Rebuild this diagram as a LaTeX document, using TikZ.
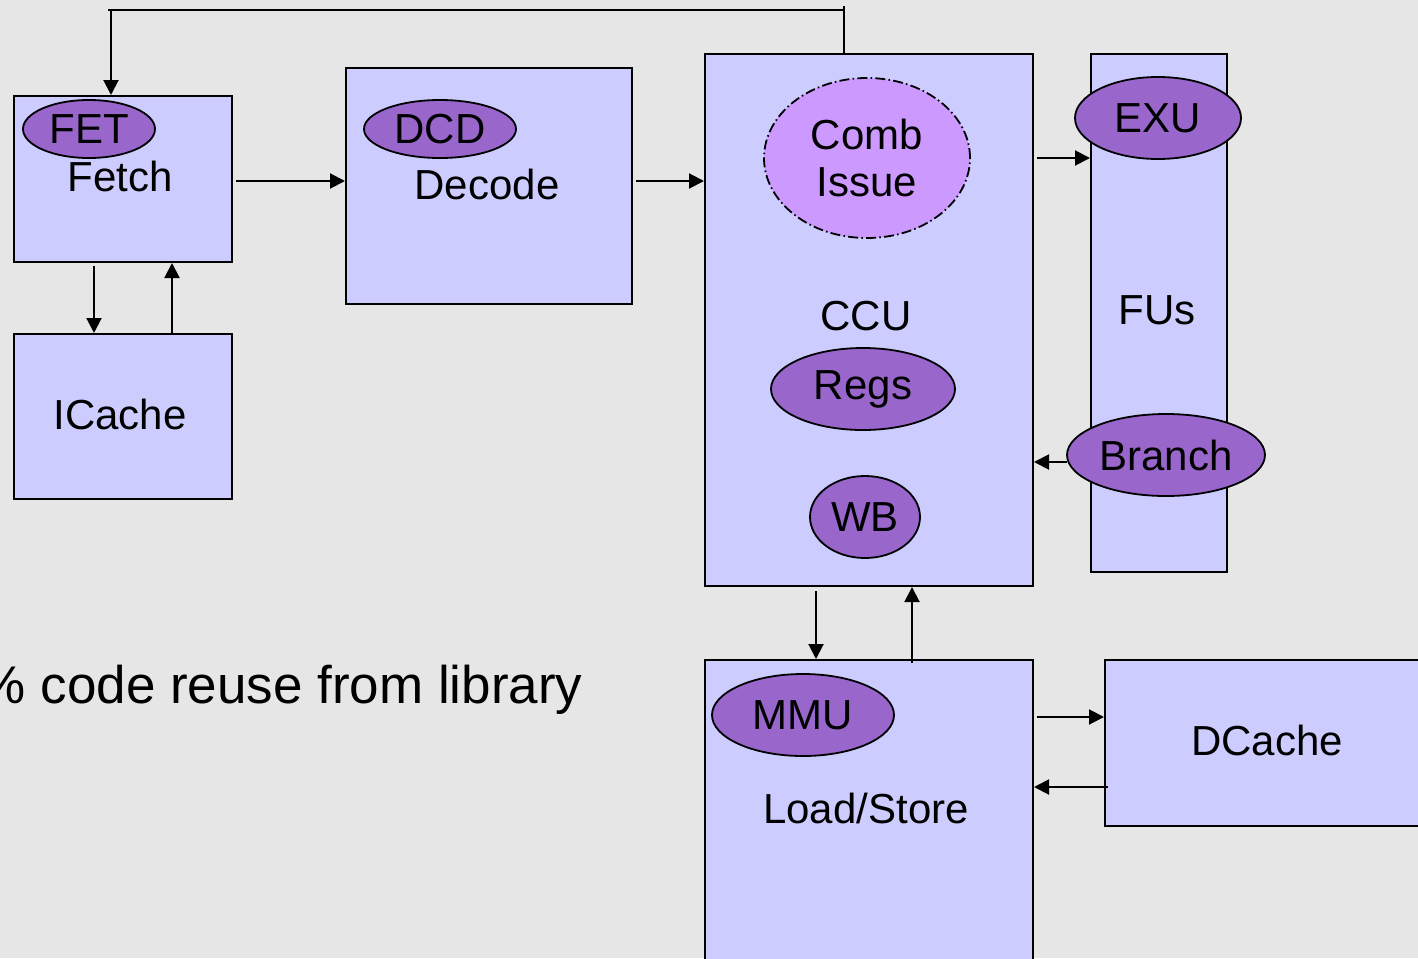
\documentclass[tikz,border=0pt]{standalone}
\usepackage{fontspec}
\setmainfont{Liberation Sans}
\usetikzlibrary{shapes.geometric,arrows.meta,calc}
\definecolor{bgc}{HTML}{E6E6E6}
\definecolor{unitfill}{HTML}{CCCCFF}
\definecolor{blobfill}{HTML}{9966CC}
\definecolor{issuefill}{HTML}{CC99FF}

\begin{document}
\begin{tikzpicture}[x=0.5pt,y=-0.5pt,
  blk/.style={draw=black, fill=unitfill, line width=1pt, rectangle, inner sep=0pt, anchor=north west},
  oval/.style={draw=black, fill=blobfill, ellipse, line width=0.9pt, inner sep=0pt,
               font=\fontsize{21}{23.5}\selectfont},
  lbl/.style={font=\fontsize{21}{23.5}\selectfont, inner sep=0pt},
  arr/.style={line width=1pt, -{Triangle[length=7.5pt,width=7.5pt]}},
  wire/.style={line width=1pt}]

% canvas
\fill[bgc] (0,0) rectangle (1418,958);
\useasboundingbox (0,0) rectangle (1418,958);

% functional blocks
\node[blk, minimum width=109pt, minimum height=83pt]   (fetch)  at (13,95)   {};
\node[blk, minimum width=109pt, minimum height=82.5pt] (icache) at (13,333)  {};
\node[blk, minimum width=143pt, minimum height=118pt]  (decode) at (345,67)  {};
\node[blk, minimum width=164pt, minimum height=266pt]  (ccu)    at (704,53)  {};
\node[blk, minimum width=68pt,  minimum height=259pt]  (fus)    at (1090,53) {};
\node[blk, minimum width=164pt, minimum height=155.5pt](ls)     at (704,659) {};
\node[blk, minimum width=163pt, minimum height=83pt]   (dcache) at (1104,659){};

% block titles
\node[lbl] (fetchT)  at (120,176) {Fetch};
\node[lbl] (icacheT) at (120,414) {ICache};
\node[lbl] (decodeT) at (487,184) {Decode};
\node[lbl] (ccuT)    at (866,316) {CCU};
\node[lbl] (fusT)    at (1157,310) {FUs};
\node[lbl] (lsT)     at (866,808) {Load/Store};
\node[lbl] (dcacheT) at (1267,740) {DCache};

% sub-units
\node[oval, minimum width=132pt*0.5, minimum height=58pt*0.5] (fet) at (89,129) {FET};
\node[oval, minimum width=152pt*0.5, minimum height=58pt*0.5] (dcd) at (440,129) {DCD};
\node[oval, fill=issuefill, dash pattern=on 5pt off 1.6pt on 0.8pt off 1.6pt,
      minimum width=206pt*0.5, minimum height=160pt*0.5, align=center] (issue) at (867,158) {Comb\\Issue};
\node[oval, minimum width=184pt*0.5, minimum height=82pt*0.5] (regs) at (863,389) {Regs};
\node[oval, minimum width=110pt*0.5, minimum height=82pt*0.5] (wb)   at (865,517) {WB};
\node[oval, minimum width=166pt*0.5, minimum height=82pt*0.5] (exu)  at (1158,118) {EXU};
\node[oval, minimum width=198pt*0.5, minimum height=82pt*0.5] (branch) at (1166,455) {Branch};
\node[oval, minimum width=182pt*0.5, minimum height=82pt*0.5] (mmu)  at (803,715) {MMU};

% caption
\node[font=\fontsize{26.5}{30}\selectfont, inner sep=0pt, anchor=base east] (note) at (583,703)
  {\% code reuse from library};

% connectors
\coordinate (brsrc) at ($(branch.west)+(1,7)$);
\draw[wire] ($(ccu.north)+(-25,0)$) -- ++(0,-47);
\draw[arr] ($(ccu.north)+(-25,-43)$) -- ($(fetch.north)+(-15,-85)$) -- ++(3,0) -- ($(fetch.north)+(-12,0)$);
\draw[arr] ($(fetch.south)+(-29,3)$) -- ($(icache.north)+(-29,0)$);
\draw[arr] ($(icache.north)+(49,0)$) -- ($(fetch.south)+(49,0)$);
\draw[arr] ($(fetch.east)+(3,2)$) -- ($(decode.west)+(0,-5)$);
\draw[arr] ($(decode.east)+(3,-5)$) -- ($(ccu.west)+(0,-139)$);
\draw[arr] ($(ccu.east)+(3,-162)$) -- ($(fus.west)+(0,-155)$);
\draw[arr] (brsrc) -- (ccu.east |- brsrc);
\draw[arr] ($(ccu.south)+(-53,4)$) -- ($(ls.north)+(-53,0)$);
\draw[arr] ($(ls.north)+(43,4)$) -- ($(ccu.south)+(43,0)$);
\draw[arr] ($(ls.east)+(3,-98.5)$) -- ($(dcache.west)+(0,-26)$);
\draw[arr] ($(dcache.west)+(4,44)$) -- ($(ls.east)+(0,-28.5)$);
\end{tikzpicture}
\end{document}
